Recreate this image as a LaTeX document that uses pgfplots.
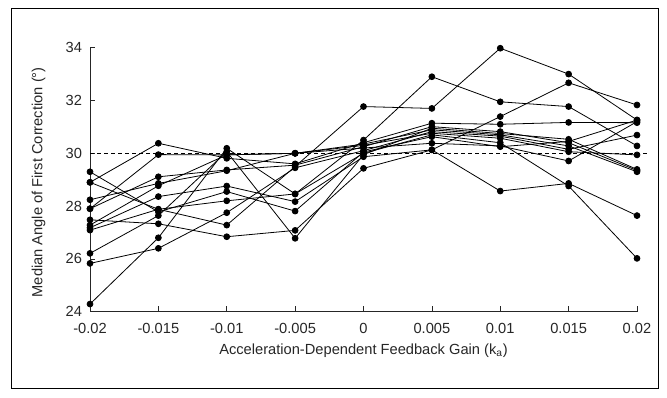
\documentclass[border=0pt]{standalone}
\usepackage{fontspec}
\setmainfont{Liberation Sans}
\usepackage{pgfplots}
\pgfplotsset{compat=1.18}
\definecolor{axisgray}{HTML}{262626}
\tikzset{ser/.style={black, solid, line width=0.6pt, mark=*, mark size=2.2pt, mark options={solid, fill=black, draw=black}}}
\begin{document}
\begin{tikzpicture}
\path[use as bounding box] (0,0) rectangle (500.25pt,297.75pt);
\draw[line width=0.75pt, black] (8.25pt,6.75pt) rectangle (493.5pt,291pt);
\begin{axis}[
  at={(67.5pt,63.975pt)}, anchor=south west,
  scale only axis, width=410.25pt, height=198pt,
  xmin=-0.02, xmax=0.02, ymin=24, ymax=34,
  clip=false,
  axis x line*=bottom, axis y line*=left,
  axis line style={draw=axisgray, line width=0.5pt, -},
  tick align=inside, major tick length=4pt,
  tick style={draw=axisgray, line width=0.5pt},
  xtick={-0.02,-0.015,-0.01,-0.005,0,0.005,0.01,0.015,0.02},
  xticklabels={-0.02,-0.015,-0.01,-0.005,0,0.005,0.01,0.015,0.02},
  ytick={24,26,28,30,32,34},
  yticklabels={24,26,28,30,32,34},
  scaled x ticks=false,
  ticklabel style={font=\fontsize{11}{13}\selectfont, text=axisgray},
  x tick label style={yshift=-5.5pt},
  y tick label style={xshift=-2.5pt},
  xlabel={Acceleration-Dependent Feedback Gain (k\textsubscript{a})},
  ylabel={Median Angle of First Correction (°)},
  every axis x label/.style={at={(axis description cs:0.5,-0.148)}, anchor=center, font=\fontsize{11}{13}\selectfont, text=axisgray},
  every axis y label/.style={at={(axis description cs:-0.094,0.49)}, rotate=90, anchor=center, font=\fontsize{11}{13}\selectfont, text=axisgray},
]
\addplot[black, mark=none, line width=0.6pt, dash pattern=on 3pt off 2.25pt, forget plot] coordinates {(-0.02,30) (0.0207,30)};
% a
\addplot[ser] coordinates {(-0.02,28.90) (-0.015,30.38) (-0.01,29.81) (-0.005,29.60) (0,30.40) (0.005,31.14) (0.01,31.10) (0.015,31.17) (0.02,31.16)};
% b
\addplot[ser] coordinates {(-0.02,28.90) (-0.015,27.88) (-0.01,27.28) (-0.005,29.50) (0,31.77) (0.005,31.70) (0.01,33.98) (0.015,33.00) (0.02,31.26)};
% c
\addplot[ser] coordinates {(-0.02,29.30) (-0.015,27.78) (-0.01,28.55) (-0.005,27.81) (0,30.05) (0.005,30.63) (0.01,30.25) (0.015,30.45) (0.02,31.26)};
% d
\addplot[ser] coordinates {(-0.02,28.24) (-0.015,28.86) (-0.01,29.34) (-0.005,30.00) (0,30.35) (0.005,30.89) (0.01,30.70) (0.015,30.28) (0.02,29.30)};
% e
\addplot[ser] coordinates {(-0.02,27.90) (-0.015,29.95) (-0.01,29.94) (-0.005,30.00) (0,30.30) (0.005,30.76) (0.01,30.57) (0.015,30.06) (0.02,29.94)};
% f
\addplot[ser] coordinates {(-0.02,27.90) (-0.015,29.11) (-0.01,29.37) (-0.005,29.55) (0,30.25) (0.005,31.01) (0.01,30.82) (0.015,30.40) (0.02,29.35)};
% g
\addplot[ser] coordinates {(-0.02,27.48) (-0.015,27.33) (-0.01,26.84) (-0.005,27.08) (0,29.43) (0.005,30.13) (0.01,28.57) (0.015,28.86) (0.02,27.64)};
% h
\addplot[ser] coordinates {(-0.02,27.28) (-0.015,28.77) (-0.01,29.94) (-0.005,30.00) (0,30.20) (0.005,30.38) (0.01,30.28) (0.015,29.71) (0.02,31.20)};
% i
\addplot[ser] coordinates {(-0.02,27.18) (-0.015,28.36) (-0.01,28.76) (-0.005,28.17) (0,29.87) (0.005,30.13) (0.01,31.39) (0.015,32.67) (0.02,31.83)};
% j
\addplot[ser] coordinates {(-0.02,27.09) (-0.015,27.88) (-0.01,28.20) (-0.005,28.46) (0,30.00) (0.005,30.70) (0.01,30.40) (0.015,28.76) (0.02,26.02)};
% k
\addplot[ser] coordinates {(-0.02,26.21) (-0.015,27.64) (-0.01,30.06) (-0.005,26.78) (0,29.95) (0.005,30.95) (0.01,30.75) (0.015,30.53) (0.02,29.39)};
% l
\addplot[ser] coordinates {(-0.02,25.83) (-0.015,26.40) (-0.01,27.75) (-0.005,29.45) (0,30.10) (0.005,30.82) (0.01,30.65) (0.015,30.15) (0.02,30.69)};
% m
\addplot[ser] coordinates {(-0.02,24.29) (-0.015,26.80) (-0.01,30.19) (-0.005,28.46) (0,30.50) (0.005,32.90) (0.01,31.95) (0.015,31.77) (0.02,30.28)};
\end{axis}
\end{tikzpicture}
\end{document}
